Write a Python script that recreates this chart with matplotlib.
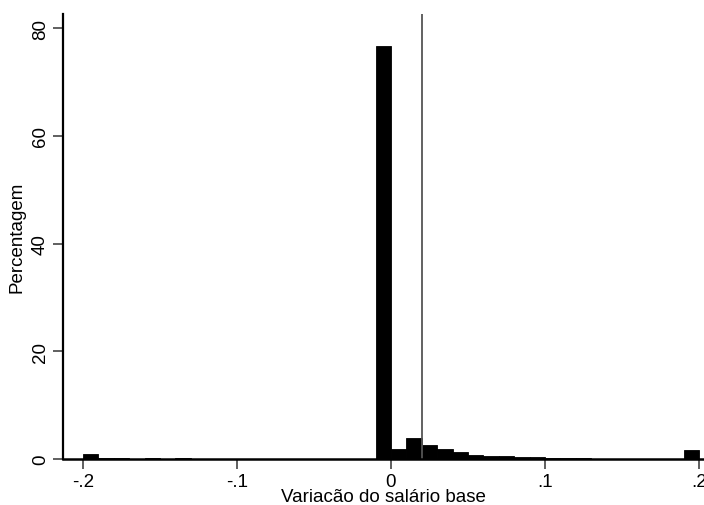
import matplotlib
matplotlib.use('Agg')
import matplotlib.pyplot as plt
import numpy as np

# histogram bins (width .01) from -.2 to .2
bin_edges = np.round(np.arange(-0.20, 0.2001, 0.01), 2)
percent = [
    1.0, 0.10, 0.10, 0.08, 0.10, 0.08, 0.10, 0.08, 0.06, 0.04,   # -.20 .. -.11
    0.08, 0.08, 0.08, 0.06, 0.04, 0.06, 0.04, 0.04, 0.04, 76.6,  # -.10 .. -.01
    1.9, 3.8, 2.5, 1.9, 1.2, 0.8, 0.6, 0.55, 0.45, 0.45,         #  .00 .. .09
    0.25, 0.15, 0.12, 0.08, 0.06, 0.05, 0.05, 0.05, 0.05, 1.7,   #  .10 .. .19
]
ref_line = 0.02

xticks = [-0.2, -0.1, 0, 0.1, 0.2]
xtick_labels = ['-.2', '-.1', '0', '.1', '.2']
yticks = [0, 20, 40, 60, 80]

plt.rcParams['font.family'] = ['Liberation Sans', 'DejaVu Sans']

fig = plt.figure(figsize=(7.04, 5.06), dpi=100)
ax = fig.add_axes([0.0895, 0.091, 0.909, 0.879])

ax.bar(bin_edges[:-1], percent, width=0.01, align='edge',
       color='black', edgecolor='black', linewidth=0.6)
ax.axvline(ref_line, color='#555555', linewidth=1.3)

ax.set_xlim(-0.213, 0.2026)
ax.set_ylim(0, 82.6)
ax.set_xticks(xticks)
ax.set_xticklabels(xtick_labels)
ax.set_yticks(yticks)
ax.set_yticklabels([str(v) for v in yticks], rotation=90, va='center')

ax.spines['top'].set_visible(False)
ax.spines['right'].set_visible(False)
ax.spines['left'].set_linewidth(1.6)
ax.spines['bottom'].set_linewidth(1.8)
ax.tick_params(axis='both', length=7, width=1.2, color='#444444',
               labelsize=13.5, pad=3)

ax.set_xlabel('Variacão do salário base', fontsize=13.5, labelpad=-1)
ax.set_ylabel('Percentagem', fontsize=13.5, labelpad=5)

plt.savefig('out.png', dpi=100)
plt.close(fig)
